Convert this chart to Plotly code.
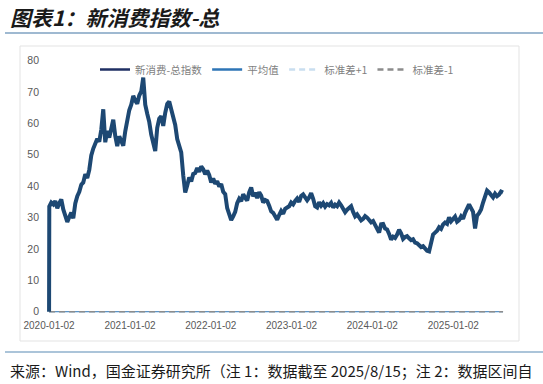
import pandas as pd
import plotly.graph_objects as go

# ---- data ----
start_date = "2020-01-02"
start_value = 0
series_values = [
    33.5, 34.8, 34.2, 35.3, 33.0, 34.6, 35.8, 32.6, 30.8, 28.6,
    30.2, 31.6, 29.8, 34.5, 36.8, 38.2, 40.5, 41.2, 43.8, 42.6,
    45.2, 49.8, 52.0, 53.9, 55.1, 54.2, 58.0, 64.5, 54.0, 57.6,
    55.5, 58.3, 61.2, 56.0, 52.8, 55.9, 54.4, 52.9, 57.5, 61.5,
    64.2, 66.0, 68.8, 67.2, 66.3, 68.9, 70.2, 74.6, 66.0, 63.1,
    60.5, 56.4, 53.0, 51.2, 58.6, 61.5, 62.3, 59.2, 63.4, 66.2,
    67.0, 64.6, 62.8, 59.5, 55.0, 52.6, 50.8, 43.5, 38.0, 40.2,
    42.8, 41.5, 43.9, 44.2, 45.8, 44.6, 46.3, 45.4, 43.8, 45.0,
    43.6, 41.2, 42.5, 40.8, 41.6, 39.9, 40.7, 38.2, 37.5, 33.0,
    31.0, 29.2, 30.4, 31.8, 34.6, 36.0, 35.2, 37.4, 36.3, 35.4,
    38.0, 39.6, 36.8, 37.9, 36.2, 38.1, 37.0, 34.8, 35.6, 35.3,
    33.8, 32.0, 31.5, 30.4, 29.3, 30.8, 32.1, 31.2, 32.8, 33.2,
    33.6, 34.8, 34.2, 35.3, 36.1, 35.0, 36.9, 37.4, 36.3, 35.5,
    36.4, 37.8, 36.0, 33.6, 33.2, 34.9, 33.8, 34.6, 33.5, 34.3,
    33.9, 34.7, 33.2, 34.1, 33.6, 34.8, 33.9, 32.6, 31.7, 32.5,
    33.0, 33.6, 31.8, 30.4, 31.0, 29.8, 29.1, 29.6, 30.5, 30.0,
    29.2, 28.5, 28.9, 27.6, 26.8, 25.2, 27.9, 28.0, 26.5, 26.2,
    24.8, 23.0, 23.9, 23.5, 24.6, 26.1, 25.0, 23.2, 23.8, 24.1,
    23.4, 22.8, 23.1, 22.0, 21.8, 21.2, 20.6, 20.9, 20.0, 19.4,
    19.2, 22.5, 24.6, 25.2, 25.8, 26.9, 26.4, 27.8, 28.4, 28.0,
    30.1, 28.8, 29.6, 30.3, 28.7, 29.2, 30.4, 29.6, 31.5, 32.6,
    34.2, 33.0, 31.8, 26.5, 30.6, 31.4, 32.6, 34.8, 36.5, 38.6,
    38.0, 37.2, 36.4, 37.6, 36.8, 37.3, 38.3, 38.0,
]
end_date = "2025-08-15"
mean_value = 0
std_plus_value = 0
std_minus_value = 0

tick_dates = ["2020-01-02", "2021-01-02", "2022-01-02", "2023-01-02", "2024-01-02", "2025-01-02"]
y_ticks = [0, 10, 20, 30, 40, 50, 60, 70, 80]

series_names = ["新消费-总指数", "平均值", "标准差+1", "标准差-1"]
title_text = "图表1：新消费指数-总"
source_text = "来源：Wind，国金证券研究所（注 1：数据截至 2025/8/15；注 2：数据区间自"

# ---- build ----
dates = [pd.Timestamp(start_date)] + list(pd.date_range("2020-01-03", end_date, periods=len(series_values)))
values = [start_value] + series_values
n = len(dates)

FONT = "Noto Sans CJK SC, Noto Sans, sans-serif"
W, H = 543, 384
L, R, T, B = 40, 30, 50, 66
pw, ph = W - L - R, H - T - B


def px(xp):
    return (xp - L) / pw


def py(yp):
    return (H - B - yp) / ph


fig = go.Figure()
fig.add_trace(go.Scatter(x=dates, y=[mean_value] * n, mode="lines", showlegend=False,
                         line=dict(color="#2e75b6", width=1), hoverinfo="skip"))
fig.add_trace(go.Scatter(x=dates, y=[std_plus_value] * n, mode="lines", showlegend=False,
                         line=dict(color="#bdd7ee", width=1.5, dash="6px,4px"), hoverinfo="skip"))
fig.add_trace(go.Scatter(x=dates, y=[std_minus_value] * n, mode="lines", showlegend=False,
                         line=dict(color="#8c8c8c", width=1.5, dash="6px,4px"), hoverinfo="skip"))
fig.add_trace(go.Scatter(x=dates, y=values, mode="lines", showlegend=False,
                         line=dict(color="#1d4873", width=4)))

leg_styles = [
    dict(color="#1f2f63", width=2.5),
    dict(color="#2e75b6", width=2.5),
    dict(color="#c9def0", width=2.5, dash="6px,4px"),
    dict(color="#8c8c8c", width=2.5, dash="6px,4px"),
]
for name, st in zip(series_names, leg_styles):
    fig.add_trace(go.Scatter(x=[None], y=[None], mode="lines", name=name, line=st))

fig.update_layout(
    width=W, height=H,
    margin=dict(l=L, r=R, t=T, b=B),
    paper_bgcolor="white", plot_bgcolor="white",
    font=dict(family=FONT, size=10, color="#595959"),
    showlegend=True,
    legend=dict(orientation="h", x=px(95), xanchor="left", y=py(55), yanchor="top",
                font=dict(size=10.5, color="#7f7f7f"), itemwidth=30,
                bgcolor="rgba(0,0,0,0)", tracegroupgap=0),
    xaxis=dict(type="date", range=["2019-11-22", "2025-09-29"],
               tickvals=tick_dates, ticktext=tick_dates,
               showgrid=False, zeroline=False, showline=False, ticks="",
               tickfont=dict(size=10, color="#595959", family="Liberation Sans, Arial, sans-serif")),
    yaxis=dict(range=[-2.0, 83.4], tickvals=y_ticks, showgrid=False, zeroline=False,
               showline=False, ticks="",
               tickfont=dict(size=10.5, color="#595959", family="Liberation Sans, Arial, sans-serif")),
)

shapes = [
    dict(type="rect", xref="paper", yref="paper", x0=px(20), x1=px(519), y0=py(341), y1=py(46),
         line=dict(color="#e3e3e3", width=1), fillcolor="rgba(0,0,0,0)", layer="below"),
    dict(type="line", xref="paper", yref="paper", x0=px(5), x1=px(543), y0=py(33), y1=py(33),
         line=dict(color="#9fb9d1", width=2)),
    dict(type="line", xref="paper", yref="paper", x0=px(5), x1=px(543), y0=py(352), y1=py(352),
         line=dict(color="#8fb0cc", width=1.5)),
]
fig.update_layout(shapes=shapes)

fig.add_annotation(xref="paper", yref="paper", x=px(8), y=py(17), xanchor="left", yanchor="middle",
                   text="<b><i>" + title_text + "</i></b>", showarrow=False,
                   font=dict(family=FONT, size=21, color="#1a1a1a"))
fig.add_annotation(xref="paper", yref="paper", x=px(8), y=py(370), xanchor="left", yanchor="middle",
                   text=source_text, showarrow=False,
                   font=dict(family="Noto Sans CJK SC, sans-serif", size=15, color="#1a1a1a"))

fig.write_html("out.html", config={"displayModeBar": False},
               post_script="document.body.style.margin='0';document.body.style.padding='0';")
